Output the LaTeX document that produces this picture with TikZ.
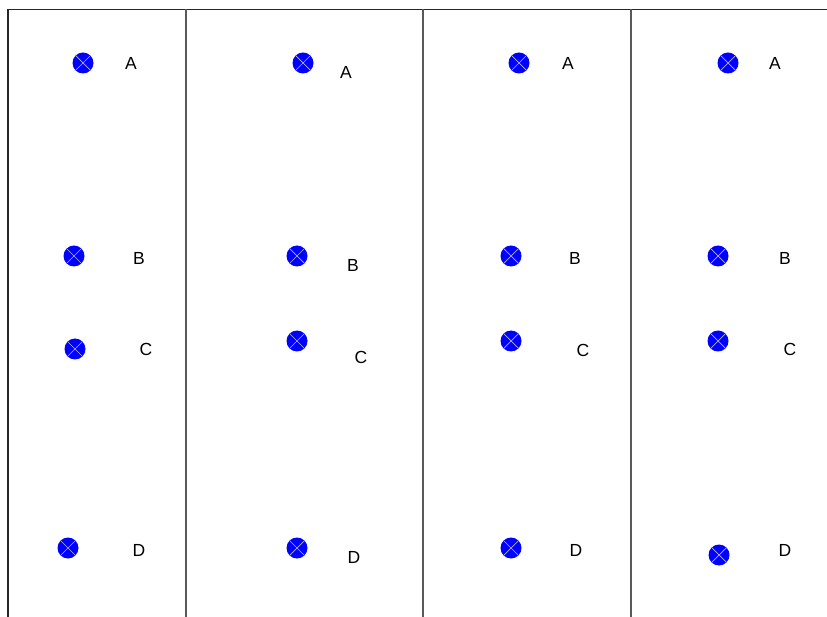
\documentclass[tikz,border=0pt]{standalone}
\usepackage{fontspec}
\setmainfont{Liberation Sans}
\usetikzlibrary{positioning}
\tikzset{
    pole/.style={
        circle,
        fill=blue,
        inner sep=0pt,
        minimum size=21pt,
        path picture={
            \draw[blue!30!white, line width=0.7pt]
                ([shift={(-45:10.5pt)}]path picture bounding box.center) -- ([shift={(135:10.5pt)}]path picture bounding box.center)
                ([shift={(45:10.5pt)}]path picture bounding box.center) -- ([shift={(-135:10.5pt)}]path picture bounding box.center);
        }
    },
    lab/.style={
        font=\fontsize{17.5}{20}\selectfont,
        inner sep=0pt
    },
    frame/.style={
        line width=1.2pt,
        draw=black!85
    },
    divider/.style={
        line width=1.2pt,
        draw=black!65
    }
}
\begin{document}
\begin{tikzpicture}[x=1pt,y=-1pt]
\useasboundingbox[fill=white] (0,0) rectangle (827,617);
% frame
\draw[frame] (8,617) -- (8,9.5) -- (827,9.5);
\draw[divider] (186,9.5) -- (186,617);
\draw[divider] (423,9.5) -- (423,617);
\draw[divider] (631,9.5) -- (631,617);
% panel 1
\node[pole] (a1) at (83,63) {};
\node[lab] (la1) at (131,63) {A};
\node[pole] (b1) at (74,256) {};
\node[lab] (lb1) at (139,258) {B};
\node[pole] (c1) at (75,349) {};
\node[lab] (lc1) at (146,349) {C};
\node[pole] (d1) at (68,548) {};
\node[lab] (ld1) at (139,550) {D};
% panel 2
\node[pole] (a2) at (303,63) {};
\node[lab] (la2) at (346,72) {A};
\node[pole] (b2) at (297,256) {};
\node[lab] (lb2) at (353,265) {B};
\node[pole] (c2) at (297,341) {};
\node[lab] (lc2) at (361,357) {C};
\node[pole] (d2) at (297,548) {};
\node[lab] (ld2) at (354,557) {D};
% panel 3
\node[pole] (a3) at (519,63) {};
\node[lab] (la3) at (568,63) {A};
\node[pole] (b3) at (511,256) {};
\node[lab] (lb3) at (575,258) {B};
\node[pole] (c3) at (511,341) {};
\node[lab] (lc3) at (583,350) {C};
\node[pole] (d3) at (511,548) {};
\node[lab] (ld3) at (576,550) {D};
% panel 4
\node[pole] (a4) at (728,63) {};
\node[lab] (la4) at (775,63) {A};
\node[pole] (b4) at (718,256) {};
\node[lab] (lb4) at (785,258) {B};
\node[pole] (c4) at (718,341) {};
\node[lab] (lc4) at (790,349) {C};
\node[pole] (d4) at (719,555) {};
\node[lab] (ld4) at (785,550) {D};
\end{tikzpicture}
\end{document}
